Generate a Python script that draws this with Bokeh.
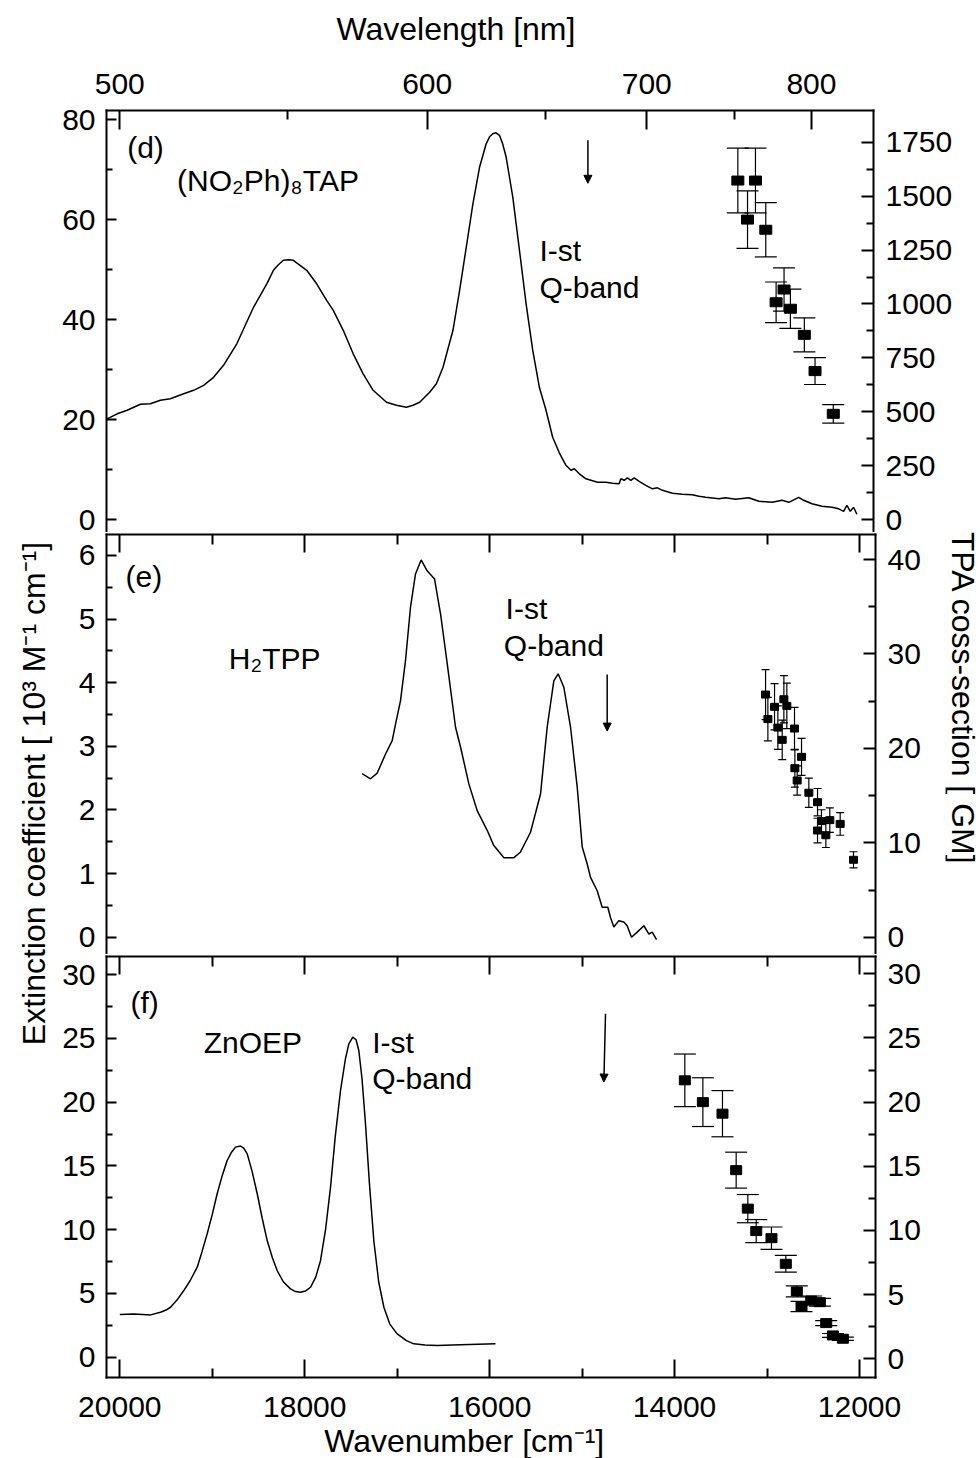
import math

from bokeh.core.properties import value
from bokeh.embed import file_html
from bokeh.layouts import column, row
from bokeh.models import (Arrow, ColumnDataSource, CustomJSTickFormatter, FixedTicker,
                          Label, LinearAxis, NormalHead, Range1d, TeeHead, Whisker)
from bokeh.plotting import figure
from bokeh.resources import INLINE

FONT = "Liberation Sans"

# ---------------- (d) (NO2Ph)8TAP ----------------
tap_wn = [20137, 20028, 19920, 19776, 19668, 19560, 19452, 19307, 19199, 19091,
          18983, 18875, 18731, 18550, 18406, 18334, 18280, 18226, 18170, 18118,
          17973, 17865, 17757, 17685, 17577, 17469, 17361, 17253, 17108, 17000,
          16892, 16820, 16748, 16640, 16567, 16495, 16387, 16315, 16243, 16171,
          16099, 16027, 15990, 15955, 15920, 15883, 15850, 15810, 15738, 15666,
          15594, 15522, 15450, 15378, 15306, 15234, 15162, 15107, 15071, 15017,
          14945, 14891, 14819, 14729, 14657, 14585, 14567, 14531, 14495, 14458,
          14422, 14368, 14296, 14224, 14170, 14116, 14008, 13900, 13792, 13719,
          13647, 13503, 13431, 13323, 13179, 13071, 12926, 12818, 12746, 12638,
          12584, 12494, 12386, 12277, 12205, 12151, 12115, 12079, 12043, 12007]
tap_eps = [20.2, 21.2, 21.9, 23.1, 23.2, 23.9, 24.2, 25.2, 25.9, 26.9,
           28.5, 30.9, 35.2, 42.5, 47.2, 49.9, 51.0, 51.9, 52.0, 51.9,
           49.9, 47.2, 43.9, 41.9, 37.9, 33.2, 29.2, 25.9, 23.5, 22.9,
           22.5, 22.9, 23.5, 25.5, 27.2, 30.5, 37.9, 45.9, 54.5, 63.2,
           70.5, 75.2, 76.6, 77.2, 77.4, 76.9, 75.3, 72.5, 64.5, 53.9,
           43.2, 33.9, 26.5, 21.9, 16.5, 13.4, 10.9, 9.9, 10.2, 9.2,
           8.2, 7.9, 7.5, 7.5, 7.3, 7.2, 8.2, 7.9, 8.4, 7.9,
           8.4, 7.7, 6.9, 6.2, 6.4, 5.9, 5.3, 5.1, 5.0, 4.7,
           4.5, 4.2, 4.4, 4.1, 4.4, 3.7, 3.5, 3.9, 3.5, 4.5,
           3.9, 3.2, 2.7, 2.5, 2.2, 1.7, 2.9, 1.7, 2.5, 1.1]
tap_tpa_wn = [13298, 13107, 13193, 12995, 12883, 12797, 12728, 12577, 12461, 12263]
tap_tpa = [1572, 1572, 1391, 1344, 1008, 1067, 978, 857, 689, 491]
tap_tpa_err = [150, 150, 133, 126, 94, 100, 91, 79, 62, 43]

# ---------------- (e) H2TPP ----------------
tpp_wn = [17379, 17289, 17216, 17126, 17054, 17018, 16964, 16910, 16856, 16802,
          16741, 16676, 16596, 16531, 16459, 16369, 16315, 16225, 16135, 16027,
          15955, 15846, 15738, 15666, 15558, 15450, 15378, 15306, 15259, 15198,
          15125, 15053, 14999, 14945, 14909, 14837, 14783, 14722, 14693, 14657,
          14603, 14549, 14513, 14466, 14404, 14332, 14278, 14242, 14195]
tpp_eps = [2.57, 2.49, 2.58, 2.88, 3.09, 3.35, 3.72, 4.35, 5.19, 5.71,
           5.93, 5.76, 5.63, 5.08, 4.30, 3.30, 2.99, 2.41, 1.99, 1.68,
           1.44, 1.25, 1.25, 1.34, 1.65, 2.25, 3.30, 4.03, 4.14, 3.93,
           3.30, 2.36, 1.42, 1.15, 0.94, 0.73, 0.47, 0.47, 0.31, 0.16,
           0.26, 0.24, 0.18, 0.00, 0.08, 0.18, 0.05, 0.08, -0.04]
tpp_tpa_wn = [13016, 12991, 12919, 12883, 12836, 12818, 12786, 12703, 12699, 12674,
              12627, 12548, 12454, 12454, 12411, 12364, 12321, 12209, 12065]
tpp_tpa = [25.7, 23.1, 24.4, 22.2, 20.9, 25.2, 24.5, 22.1, 17.9, 16.6,
           19.1, 15.3, 14.3, 11.3, 12.3, 10.8, 12.4, 12.0, 8.2]
tpp_tpa_err = [2.65, 2.3, 2.45, 2.3, 2.1, 2.5, 2.4, 2.25, 2.0, 1.55,
               1.95, 1.55, 1.45, 1.3, 1.2, 1.3, 1.3, 1.2, 0.85]

# ---------------- (f) ZnOEP ----------------
zn_wn = [20000, 19848, 19750, 19668, 19560, 19500, 19452, 19380, 19308, 19240,
         19163, 19110, 19055, 19000, 18947, 18890, 18839, 18790, 18749, 18695,
         18660, 18622, 18570, 18514, 18460, 18406, 18350, 18298, 18230, 18154,
         18100, 18046, 17990, 17937, 17880, 17829, 17775, 17721, 17670, 17613,
         17560, 17523, 17480, 17445, 17415, 17380, 17343, 17300, 17253, 17200,
         17144, 17080, 17000, 16900, 16820, 16700, 16567, 16315, 15937]
zn_eps = [3.35, 3.40, 3.36, 3.32, 3.53, 3.70, 3.92, 4.50, 5.23, 6.00,
          7.06, 8.30, 9.68, 11.2, 12.82, 14.3, 15.43, 16.1, 16.48, 16.56,
          16.4, 15.95, 14.6, 12.82, 10.9, 9.15, 7.8, 6.80, 5.9, 5.36,
          5.15, 5.10, 5.2, 5.49, 6.3, 7.59, 10.0, 13.34, 17.3, 20.92,
          23.4, 24.58, 25.11, 24.9, 24.06, 21.8, 18.31, 13.6, 9.15, 5.9,
          3.92, 2.6, 1.83, 1.3, 1.05, 0.95, 0.92, 0.97, 1.05]
zn_tpa_wn = [13889, 13694, 13482, 13334, 13208, 13117, 12952, 12797, 12678, 12627,
             12522, 12429, 12360, 12288, 12180]
zn_tpa = [21.7, 20.0, 19.1, 14.7, 11.7, 9.95, 9.4, 7.4, 5.25, 4.08,
          4.54, 4.41, 2.78, 1.82, 1.56]
zn_tpa_err = [2.05, 1.9, 1.8, 1.4, 1.1, 0.9, 0.87, 0.65, 0.43, 0.4,
              0.35, 0.3, 0.2, 0.15, 0.12]

# axis ticks
wn_major = [12000, 14000, 16000, 18000, 20000]
wn_minor = [13000, 15000, 17000, 19000]
wl_major = [500, 600, 700, 800]
wl_minor = [550, 650, 750]

xr = Range1d(20144, 11827)


def style_axis(ax, ticks, minor, tick_in, minor_in, labels=True, standoff=11):
    ax.ticker = FixedTicker(ticks=ticks, minor_ticks=minor)
    ax.axis_line_width = 2
    ax.axis_line_cap = "square"
    ax.axis_line_color = "black"
    ax.major_tick_in = tick_in
    ax.major_tick_out = 0
    ax.minor_tick_in = minor_in
    ax.minor_tick_out = 0
    ax.major_tick_line_width = 2
    ax.minor_tick_line_width = 2
    ax.major_tick_line_color = "black"
    ax.minor_tick_line_color = "black"
    ax.major_label_text_font = FONT
    ax.major_label_text_color = "black"
    if labels:
        ax.major_label_text_font_size = "30px"
        ax.major_label_standoff = standoff
    else:
        ax.formatter = CustomJSTickFormatter(code="return ''")
        ax.major_label_text_font_size = "0px"
        ax.major_label_standoff = 0


def panel(width, height, left_rng, right_rng, b_top, b_bottom, b_right,
          left_ticks, left_minor, right_ticks, right_minor):
    p = figure(width=width, height=height, x_range=xr, y_range=Range1d(*left_rng),
               output_backend="svg", toolbar_location=None,
               x_axis_location=None, y_axis_location=None,
               min_border_left=51, min_border_right=b_right,
               min_border_top=b_top, min_border_bottom=b_bottom)
    p.extra_y_ranges = {"tpa": Range1d(*right_rng)}
    p.outline_line_color = None
    p.background_fill_color = "white"
    p.border_fill_color = "white"
    p.grid.visible = False

    la = LinearAxis()
    style_axis(la, left_ticks, left_minor, 10, 6, standoff=11)
    p.add_layout(la, "left")
    ra = LinearAxis(y_range_name="tpa")
    style_axis(ra, right_ticks, right_minor, 12, 7, standoff=12)
    p.add_layout(ra, "right")
    return p


def spectrum(p, wn, eps, tpa_wn, tpa, err, cap, mw, mh):
    p.line(wn, eps, line_color="black", line_width=1.5)
    src = ColumnDataSource(dict(
        x=tpa_wn, y=tpa,
        upper=[v + e for v, e in zip(tpa, err)],
        lower=[v - e for v, e in zip(tpa, err)]))
    p.add_layout(Whisker(source=src, base="x", upper="upper", lower="lower",
                         dimension="height", y_range_name="tpa",
                         line_color="black", line_width=1.2,
                         upper_head=TeeHead(size=cap, line_width=1.2, line_color="black"),
                         lower_head=TeeHead(size=cap, line_width=1.2, line_color="black")))
    p.rect(x="x", y="y", width=mw, height=mh, width_units="screen",
           height_units="screen", y_range_name="tpa", source=src,
           fill_color="black", line_color="black")


def note(p, x, y, text):
    p.add_layout(Label(x=x, y=y, text=text, text_font=FONT, text_font_size="30px",
                       text_color="black", text_baseline="alphabetic", text_align="left"))


def arrow(p, x0, y0, x1, y1):
    p.add_layout(Arrow(x_start=x0, y_start=y0, x_end=x1, y_end=y1,
                       line_color="black", line_width=1.5,
                       end=NormalHead(size=8, fill_color="black", line_color="black",
                                      line_width=1)))


def title_strip(width, height, x0, x1):
    # blank strip in page pixels that only carries an axis title
    f = figure(width=width, height=height, x_range=Range1d(x0, x1),
               y_range=Range1d(0, height), output_backend="svg", toolbar_location=None,
               x_axis_location=None, y_axis_location=None, min_border=0)
    f.outline_line_color = None
    f.grid.visible = False
    return f


def title(f, x, y, text, angle=0.0, size="32px"):
    f.text(x=[x], y=[y], text=[text], angle=angle, text_font=value(FONT),
           text_font_size=value(size), text_align="center", text_baseline="middle",
           text_color="black")


# ---------------- panel (d) ----------------
top_strip = title_strip(900, 55, 55, 955)
title(top_strip, 465, 27, "Wavelength [nm]")

p1 = panel(900, 477, (-2.54, 81.86), (-58.9, 1896.6), 55, 0, 80,
           [0, 20, 40, 60, 80], [10, 30, 50, 70],
           [0, 250, 500, 750, 1000, 1250, 1500, 1750],
           [125, 375, 625, 875, 1125, 1375, 1625])
top = LinearAxis()
style_axis(top, [1e7 / w for w in wl_major], [1e7 / w for w in wl_minor], 19, 9,
           standoff=17)
top.formatter = CustomJSTickFormatter(code="return Math.round(1e7 / tick).toString()")
p1.add_layout(top, "above")
spectrum(p1, tap_wn, tap_eps, tap_tpa_wn, tap_tpa, tap_tpa_err, 22, 12, 9)
note(p1, 19920, 74.5, "(d)")
note(p1, 19379, 67.9, "(NO₂Ph)₈TAP")
note(p1, 15450, 53.9, "I-st")
note(p1, 15450, 46.5, "Q-band")
arrow(p1, 14924, 75.9, 14924, 67.3)

# ---------------- panel (e) ----------------
p2 = panel(890, 422, (-0.272, 6.330), (-1.83, 42.65), 2, 0, 70,
           [0, 1, 2, 3, 4, 5, 6], [0.5, 1.5, 2.5, 3.5, 4.5, 5.5],
           [0, 10, 20, 30, 40], [5, 15, 25, 35])
sep2 = LinearAxis()
style_axis(sep2, wn_major, wn_minor, 18, 10, labels=False)
p2.add_layout(sep2, "above")
spectrum(p2, tpp_wn, tpp_eps, tpp_tpa_wn, tpp_tpa, tpp_tpa_err, 8, 8, 7)
note(p2, 19938, 5.67, "(e)")
note(p2, 18821, 4.38, "H₂TPP")
note(p2, 15828, 5.16, "I-st")
note(p2, 15847, 4.58, "Q-band")
arrow(p2, 14729, 4.13, 14729, 3.24)

# ---------------- panel (f) ----------------
p3 = panel(890, 470, (-1.59, 31.43), (-1.46, 31.35), 2, 47, 70,
           [0, 5, 10, 15, 20, 25, 30], [2.5, 7.5, 12.5, 17.5, 22.5, 27.5],
           [0, 5, 10, 15, 20, 25, 30], [2.5, 7.5, 12.5, 17.5, 22.5, 27.5])
sep3 = LinearAxis()
style_axis(sep3, wn_major, wn_minor, 18, 10, labels=False)
p3.add_layout(sep3, "above")
bottom = LinearAxis()
style_axis(bottom, wn_major, wn_minor, 18, 9, standoff=19)
p3.add_layout(bottom, "below")
spectrum(p3, zn_wn, zn_eps, zn_tpa_wn, zn_tpa, zn_tpa_err, 22, 11, 9)
note(p3, 19884, 27.85, "(f)")
note(p3, 19092, 24.7, "ZnOEP")
note(p3, 17270, 24.7, "I-st")
note(p3, 17270, 21.84, "Q-band")
arrow(p3, 14747, 26.94, 14765, 21.58)

bottom_strip = title_strip(890, 34, 55, 945)
title(bottom_strip, 469, 18, "Wavenumber [cm⁻¹]")

# ---------------- vertical titles ----------------
left_strip = title_strip(55, 1458, 0, 55)
title(left_strip, 33, 665, "Extinction coefficient [ 10³ M⁻¹ cm⁻¹]",
      angle=math.pi / 2)

right_strip = title_strip(35, 926, 945, 980)
title(right_strip, 962, 760, "TPA coss-section [ GM]", angle=-math.pi / 2)

layout = row(left_strip,
             column(top_strip, p1,
                    row(column(p2, p3, bottom_strip, spacing=0), right_strip, spacing=0),
                    spacing=0),
             spacing=0)

open("out.html", "w").write(file_html(layout, INLINE))
